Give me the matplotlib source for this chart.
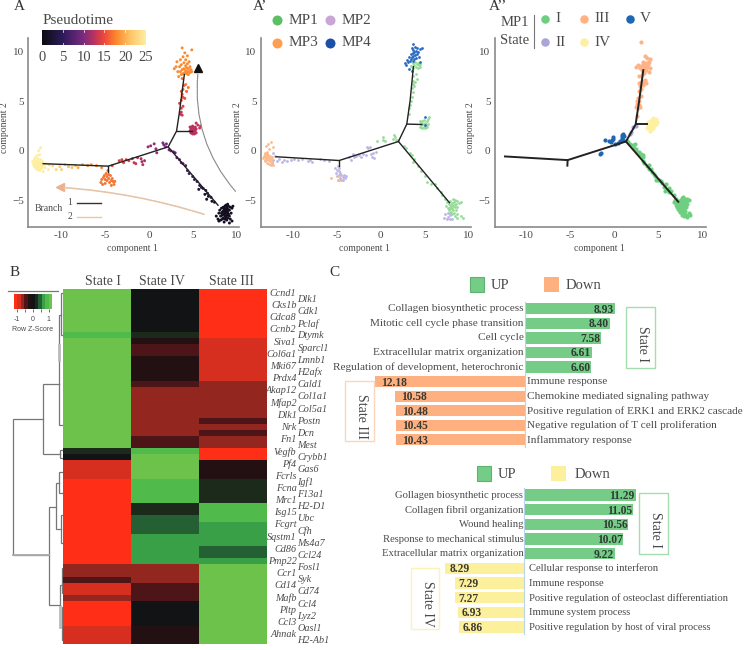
import numpy as np
import matplotlib
matplotlib.use('Agg')
import matplotlib.pyplot as plt
from matplotlib.colors import LinearSegmentedColormap, ListedColormap, BoundaryNorm, Normalize
from matplotlib.patches import Rectangle

plt.rcParams['font.family'] = ['Liberation Serif', 'DejaVu Serif']
W, H = 745, 650

# trajectories (component 1, component 2)
tree_a = [[(-12.1, -1.3), (-4.65, -1.55), (2.2, 0.4), (7.9, -5.5)],
          [(-4.65, -1.55), (-4.65, -2.1)],
          [(2.2, 0.4), (3.16, 2.0), (3.47, 3.8), (4.05, 7.7)],
          [(3.16, 2.0), (4.9, 2.0)]]
tree_b = [[(-11.9, -0.6), (-4.73, -0.98), (2.0, 0.94), (7.8, -5.25)],
          [(-4.73, -0.98), (-4.73, -1.5)],
          [(2.0, 0.94), (2.95, 2.7), (3.33, 5.1), (3.7, 8.5)],
          [(2.95, 2.7), (4.66, 2.66)]]
tree_c = [[(-12.35, -0.57), (-5.27, -0.94), (1.32, 0.94), (7.23, -5.15)],
          [(-5.27, -0.94), (-5.3, -1.5)],
          [(1.32, 0.94), (2.41, 2.66), (2.82, 5.1), (3.28, 8.15)],
          [(2.41, 2.66), (3.65, 2.66)]]

# panel A: x, y, pseudotime
a_black = [(7.7,-6.6,1),(7.9,-6.9,1),(8.0,-6.3,1),(8.0,-7.1,1),(8.1,-6.0,1),(8.2,-6.6,1),(8.2,-7.0,1),(8.3,-6.3,1),
           (8.3,-5.8,1),(8.4,-6.9,1),(8.4,-6.5,1),(8.5,-6.1,1),(8.5,-5.7,1),(8.5,-6.8,1),(8.6,-6.4,1),(8.6,-6.0,1),
           (8.6,-7.2,1),(8.7,-5.6,1),(8.7,-6.2,1),(8.7,-6.6,1),(8.7,-6.9,1),(8.8,-5.9,1),(8.8,-6.3,1),(8.8,-5.5,1),
           (8.8,-6.7,1),(8.9,-6.1,1),(8.9,-5.7,1),(8.9,-6.5,1),(8.9,-7.0,1),(9.0,-6.2,1),(9.0,-5.4,1),(9.0,-5.9,1),
           (9.0,-6.8,1),(9.1,-6.4,1),(9.1,-5.6,1),(9.2,-6.0,1),(9.2,-6.6,1),(9.2,-7.3,1),(9.3,-5.7,1),(9.3,-6.9,1),
           (9.4,-6.3,1),(9.5,-5.8,1),(9.5,-7.1,1),(9.6,-5.6,1),(8.6,-5.8,1),(8.4,-6.2,1),(8.8,-6.1,1),(9.0,-6.5,1)]
a_lower = [(2.3,0.1,9),(2.5,0.0,9),(2.8,-0.1,9),(3.0,-0.2,8),(3.2,-0.7,8),(3.5,-0.9,8),(3.7,-1.2,8),(3.9,-1.3,7),
           (4.2,-1.5,7),(4.4,-2.0,7),(4.6,-2.3,6),(5.0,-2.6,6),(5.2,-2.9,5),(5.5,-3.1,5),(5.8,-3.5,4),(6.0,-3.7,4),
           (5.7,-3.9,3),(6.2,-3.8,3),(6.5,-4.0,3),(6.7,-4.3,3),(6.4,-4.4,2),(6.8,-4.6,2),(7.1,-4.7,2),(6.6,-4.9,2),
           (7.2,-5.1,2),(7.5,-5.2,2)]
a_mid = [(-4.2,-1.5,15),(-3.4,-1.0,14),(-3.1,-0.9,14),(-2.9,-1.2,14),(-2.6,-0.9,14),(-2.3,-1.0,14),(-1.9,-0.8,13),
         (-1.7,-1.2,13),(-1.5,-1.3,13),(-1.3,-0.7,13),(-0.9,-0.8,12),(-0.8,-1.1,12),(-0.7,-1.4,12),(-0.5,-1.0,12),
         (-0.1,0.4,11),(0.2,0.5,11),(0.6,0.7,11),(0.8,0.2,11),(0.9,-0.2,11),(1.6,0.8,10),(1.7,0.6,10),(1.9,0.4,10),(2.0,0.7,10)]
a_left = [(-11.4,-1.4,23),(-11.0,-1.5,23),(-10.6,-1.9,23),(-10.2,-1.6,22),(-10.0,-1.9,22),(-9.6,-1.4,22),(-9.2,-1.6,21),
          (-8.8,-1.7,21),(-8.4,-1.5,21),(-8.1,-1.7,20),(-7.6,-1.4,20),(-7.0,-1.5,19),(-6.6,-1.4,19),(-6.0,-1.5,18),(-5.4,-1.7,18)]
a_yellow = [(-13.3,-1.1,25),(-13.2,-1.4,25),(-13.1,-0.9,25),(-13.1,-1.6,25),(-13,-1.2,25),(-13,-0.7,25),(-12.9,-1.5,25),
            (-12.9,-1.0,25),(-12.9,-1.8,25),(-12.8,-1.3,25),(-12.8,-0.5,25),(-12.8,-1.6,25),(-12.7,-1.1,25),(-12.7,-1.9,25),
            (-12.7,-0.8,25),(-12.6,-1.4,25),(-12.6,0.0,25),(-12.6,-1.7,25),(-12.5,-1.2,25),(-12.5,-0.4,25),(-12.5,-2.0,25),
            (-12.4,-1.5,25),(-12.4,-0.9,25),(-12.4,0.3,25),(-12.3,-1.3,25),(-12.3,-1.8,25),(-12.2,-1.1,25),(-12.2,-1.6,25),
            (-12.1,-2.1,25),(-12.0,-1.4,25),(-11.9,-1.7,25),(-11.8,-1.3,25),(-11.5,-1.9,25),(-12.9,-1.3,25),(-12.6,-1.1,25)]
a_low_orange = [(-5.5,-3.2,17),(-5.4,-2.9,17),(-5.3,-3.4,17),(-5.2,-2.7,17),(-5.1,-2.5,17),(-5.0,-2.9,17),(-5.0,-3.3,17),
                (-4.9,-2.3,17),(-4.8,-2.6,17),(-4.8,-3.0,17),(-4.7,-2.0,17),(-4.6,-2.4,17),(-4.6,-2.8,17),(-4.5,-3.2,17),
                (-4.4,-2.5,17),(-4.3,-3.0,17),(-4.3,-3.5,17),(-4.2,-2.8,17),(-4.1,-3.1,17),(-4.0,-3.4,17),(-3.9,-3.1,17)]
a_red = [(4.7,2.0,12.5),(4.7,2.4,12.5),(4.8,1.8,12.5),(4.8,2.2,12.5),(4.9,2.0,12.5),(4.9,2.4,12.5),(5.0,1.7,12.5),
         (5.0,2.1,12.5),(5.0,2.5,12.5),(5.1,1.9,12.5),(5.1,2.3,12.5),(5.2,2.1,12.5),(5.2,1.7,12.5),(5.3,2.4,12.5),
         (5.3,2.0,12.5),(5.4,2.2,12.5),(5.4,2.8,12.5),(5.4,1.8,12.5),(5.6,2.6,13),(5.8,2.3,13),(5.9,2.5,13)]
a_upper = [(3.6,3.7,13),(3.7,3.9,13),(3.8,3.6,13),(3.7,4.3,14),(3.9,4.5,14),(3.5,4.8,14),(3.7,5.1,15),(3.9,5.4,15),
           (3.8,5.7,15),(4.1,5.3,15),(3.7,6.0,16),(3.9,6.2,16),(4.3,6.0,16),(4.0,6.6,16),(4.2,6.7,17),(4.5,6.4,17)]
a_top = [(2.9,8.3,18),(3.1,8.5,18),(3.2,9.0,18),(3.3,8.0,18),(3.4,7.5,18),(3.5,8.5,18),(3.6,9.2,18),(3.6,8.0,18),(3.7,7.7,18),
         (3.7,8.7,18),(3.8,10.4,18),(3.8,8.2,18),(3.9,9.5,18),(3.9,7.8,18),(4.0,8.9,18),(4.0,8.3,18),(4.1,7.9,18),(4.1,9.9,18),
         (4.2,8.6,18),(4.2,8.1,18),(4.2,9.2,18),(4.3,7.8,18),(4.3,8.4,18),(4.4,8.0,18),(4.4,8.8,18),(4.4,9.6,18),(4.5,7.7,18),
         (4.5,8.3,18),(4.6,8.0,18),(4.6,9.0,18),(4.7,7.9,18),(4.7,8.5,18),(4.8,8.2,18),(4.9,8.0,18),(4.9,10.2,18),(3.8,7.3,17)]

# panel A': x, y per molecular program
b_mp1 = [(7.4,-5.6),(7.5,-5.2),(7.6,-5.8),(7.7,-5.4),(7.7,-6.0),(7.8,-5.7),(7.9,-5.1),(7.9,-5.9),(8.0,-5.5),(8.0,-6.2),(8.1,-5.3),
         (8.1,-5.8),(8.1,-6.4),(8.2,-4.9),(8.2,-5.6),(8.2,-6.0),(8.3,-5.2),(8.3,-6.3),(8.4,-5.7),(8.4,-5.0),(8.4,-6.6),(8.5,-5.4),
         (8.5,-6.0),(8.6,-5.1),(8.6,-6.8),(8.7,-5.7),(8.7,-6.4),(8.9,-5.3),(9.1,-6.6),(9.3,-6.8),(9.1,-5.2),(8.3,-5.5),(8.0,-5.8),
         (2.6,0.5),(2.9,0.3),(3.3,-0.2),(3.5,-0.4),(3.8,-0.8),(3.6,-1.1),(4.2,-1.5),(4.6,-2.0),(5.0,-2.5),(5.3,-3.2),(5.7,-3.4),
         (6.1,-3.4),(6.4,-3.8),(6.8,-4.2),(7.0,-4.5),(7.3,-4.9),(-0.4,1.0),(0.2,1.1),(0.5,1.0),(0.3,1.4),(1.4,1.2),(1.5,1.6),(1.6,1.4),
         (1.7,1.1),(2.0,1.1),(3.2,3.7),(3.2,4.3),(3.3,4.6),(3.5,5.4),(3.4,5.0),(3.6,5.9),(3.5,6.3),(3.7,6.8),(3.8,6.5),(3.6,7.1),
         (3.9,7.0),(4.1,7.3),(3.7,7.6),(4.0,7.8),(3.4,8.6),(3.6,8.9),(3.7,8.4),(3.8,8.7),(3.9,9.0),(4.0,8.5),(4.1,8.8),(4.2,8.4),
         (4.2,8.9),(4.3,8.7),(4.4,8.5),(4.5,8.8),(4.6,2.8),(4.4,2.4),(4.5,3.0),(4.6,2.6),(4.7,2.3),(4.7,3.0),(4.8,2.7),(4.9,2.4),
         (4.9,3.1),(5.0,2.8),(5.0,2.3),(5.1,2.6),(5.2,3.0),(5.3,2.4),(5.4,2.7),(5.5,3.4),(5.4,3.2)]
b_mp2 = [(7.3,-6.4),(7.5,-6.9),(7.6,-6.3),(7.6,-6.7),(7.8,-6.9),(7.9,-6.5),(8.1,-6.9),(7.2,-6.8),(7.9,-6.3),
         (-12.3,-0.2),(-12.0,-0.5),(-12.2,-0.9),(-12.4,-1.2),(-11.8,-1.0),(-11.6,-0.8),(-11.2,-1.1),(-11.0,-0.9),(-10.6,-1.0),
         (-10.2,-0.9),(-9.9,-0.8),(-9.4,-0.9),(-9.0,-0.8),(-8.3,-1.0),(-8.0,-0.9),(-7.8,-1.1),(-6.9,-0.8),(-6.4,-0.9),(-5.9,-1.0),
         (-5.0,-1.9),(-5.1,-2.2),(-5.2,-1.7),(-5.0,-2.5),(-4.9,-1.5),(-4.8,-2.0),(-4.8,-2.4),(-4.7,-1.7),(-4.6,-2.2),(-4.6,-2.7),
         (-4.5,-2.9),(-4.5,-2.4),(-4.3,-2.6),(-4.3,-2.9),(-4.2,-2.4),(-4.1,-2.7),(-3.9,-2.5),(-4.9,-2.9),
         (-3.6,-0.6),(-3.4,-0.9),(-3.2,-0.3),(-3.0,-0.6),(-2.8,-0.5),(-2.5,-0.4),(-2.2,-0.6),(-2.0,-0.3),(-1.7,-0.4),(-1.6,0.4),
         (-1.4,0.3),(-1.2,0.4),(-1.1,-0.3),(-1.0,-0.6),(-0.9,-0.2),(-0.8,-0.7),(-0.6,-0.1)]
b_mp3 = [(-13.4,-0.7),(-13.3,-0.5),(-13.2,-0.9),(-13.2,-0.2),(-13.1,-0.6),(-13.1,-1.0),(-13.0,-0.4),(-13.0,-0.8),(-13.0,0.5),
         (-12.9,-0.6),(-12.9,-1.2),(-12.9,-0.1),(-12.8,-0.9),(-12.8,-0.4),(-12.8,0.7),(-12.7,-0.7),(-12.7,-1.3),(-12.7,0.2),
         (-12.6,-1.0),(-12.6,-0.5),(-12.5,-0.8),(-12.5,-1.4),(-12.5,0.9),(-12.4,-0.6),(-12.4,-1.1),(-12.3,0.4),(-12.2,-1.4),
         (-12.9,-0.3),(-13.1,-0.3),(-5.7,-2.7),(-4.9,-2.5),(-4.8,-3.0)]
b_mp4 = [(2.7,8.9),(2.9,8.7),(3.0,9.2),(3.1,9.0),(3.2,8.3),(3.2,9.5),(3.3,9.1),(3.4,9.8),(3.4,9.3),(3.5,9.5),(3.5,10.4),(3.5,8.1),
         (3.6,9.1),(3.6,9.9),(3.7,10.2),(3.7,9.6),(3.7,10.8),(3.8,9.3),(3.8,10.0),(3.9,9.7),(3.9,10.5),(4.0,10.1),(4.0,9.4),(4.1,9.8),
         (4.1,10.4),(4.2,10.0),(4.3,9.5),(4.5,10.3),(4.5,9.0),(4.7,10.4),(5.0,2.6),(5.0,3.4)]

# panel A'': x, y per state
c_s1 = [(1.4,1.0),(1.6,0.9),(1.8,0.7),(2.1,0.6),(2.2,0.3),(2.3,0.7),(2.5,0.2),(2.6,-0.1),(2.9,-0.4),(2.8,-0.1),(3.0,-0.3),(3.2,-0.4),
        (3.3,-0.6),(3.3,-1.0),(3.4,-1.2),(3.7,-1.5),(3.9,-1.8),(3.9,-1.4),(4.2,-1.8),(4.3,-2.1),(4.6,-2.5),(4.5,-2.3),(4.8,-2.8),(4.7,-3.0),
        (4.9,-2.9),(5.1,-3.0),(5.3,-3.1),(5.4,-3.3),(5.6,-3.7),(5.8,-3.4),(5.7,-4.1),(5.9,-4.0),(6.2,-3.8),(6.2,-4.2),(6.4,-4.1),(6.7,-4.5),
        (6.9,-5.0),(7.0,-4.9),(6.8,-5.2),(7.0,-5.5),(7.1,-5.2),(7.1,-5.7),(7.2,-5.4),(7.2,-5.9),(7.3,-5.1),(7.3,-5.5),(7.3,-6.0),(7.4,-5.3),
        (7.4,-5.7),(7.4,-6.2),(7.5,-5.0),(7.5,-5.4),(7.5,-5.9),(7.6,-4.8),(7.6,-5.2),(7.6,-5.6),(7.6,-6.1),(7.6,-6.5),(7.7,-5.0),(7.7,-5.4),
        (7.7,-5.8),(7.7,-6.3),(7.8,-4.7),(7.8,-5.2),(7.8,-5.6),(7.8,-6.0),(7.9,-5.3),(7.9,-5.8),(7.9,-6.2),(7.9,-6.6),(8.0,-4.9),(8.0,-5.5),
        (8.0,-6.1),(8.1,-5.2),(8.1,-5.7),(8.1,-6.5),(8.2,-4.9),(8.2,-5.4),(8.2,-6.7),(8.4,-5.0),(8.4,-6.3),(8.5,-6.5)]
c_s2 = [(2.1,2.4),(2.4,2.5),(1.9,1.9),(1.8,1.7)]
c_s3 = [(2.5,4.4),(2.6,4.7),(2.7,4.3),(2.8,4.6),(2.9,4.4),(2.6,5.0),(2.7,5.3),(2.8,5.0),(2.6,3.5),(3.0,5.5),(2.8,6.0),(2.9,6.5),
        (3.0,6.2),(2.8,6.9),(3.0,7.0),(3.2,6.9),(3.4,7.1),(3.3,6.7),(3.5,7.2),(3.6,6.9),(2.8,7.6),(3.1,7.7),(2.9,8.4),(2.5,8.5),(2.7,8.7),
        (3.0,8.6),(3.1,8.2),(3.2,8.5),(3.2,9.0),(3.3,8.0),(3.3,8.8),(3.4,8.4),(3.4,7.9),(3.5,8.7),(3.5,9.6),(3.6,8.2),(3.6,8.9),(3.7,8.5),
        (3.8,8.8),(3.9,9.0),(3.9,8.0),(4.0,9.3),(4.0,8.4),(3.7,9.4),(3.0,11.0)]
c_s4 = [(3.7,2.3),(3.8,2.6),(3.8,2.9),(3.9,2.3),(3.9,2.7),(4.0,3.0),(4.1,2.2),(4.1,2.6),(4.2,2.9),(4.2,2.3),(4.3,3.1),(4.3,2.6),
        (4.4,2.3),(4.4,2.9),(4.5,3.2),(4.5,2.6),(4.6,3.0),(4.7,2.7),(4.7,3.2),(4.8,2.9),(4.4,3.3),(4.0,2.0)]
c_s5 = [(-1.5,-0.2),(-1.6,-0.3),(-1.0,1.1),(-0.6,1.0),(-0.4,0.9),(-0.3,1.1),(-0.2,1.4),(-0.2,1.2),(0.1,0.7),(0.4,0.8),(0.6,1.0),
        (0.9,1.2),(0.9,1.4),(0.9,1.6),(1.0,1.7),(1.0,1.1),(1.1,1.5)]

# heatmap, row z-score per column
z_levels = [-1.15, -0.9, -0.6, -0.35, -0.15, 0, 0.15, 0.4, 0.7, 0.95, 1.15]
z_colors = ['#ff2f17', '#d62f1f', '#93271f', '#4e1518', '#231012', '#111314',
            '#1c2a1c', '#256035', '#3aa048', '#50bb4a', '#6cc24a']
heat_state_i = ([1.15]*7 + [0.95] + [1.15]*18 + [0.15] + [0] + [-0.9]*3 + [-1.15]*14 + [-0.6]*2 + [-0.35]
                + [-0.9]*2 + [-0.6] + [-1.15]*4 + [-0.9]*3)
heat_state_iv = ([0]*7 + [0.15] + [-0.15] + [-0.35]*2 + [-0.15]*4 + [-0.35] + [-0.6]*8 + [-0.35]*2 + [0.95]
                 + [1.15]*4 + [0.95]*4 + [0.15]*2 + [0.4]*3 + [0.7]*5 + [-0.6]*3 + [-0.35]*3 + [0]*4 + [-0.15]*3)
heat_state_iii = ([-1.15]*8 + [-0.9]*7 + [-0.6]*6 + [-0.35] + [-0.6] + [-0.35] + [-0.6]*2 + [-1.15]*2 + [-0.15]*3
                  + [0.15]*4 + [0.95]*3 + [0.7]*4 + [0.4]*2 + [0.7] + [1.15]*13)
heat_cols = ['State I', 'State IV', 'State III']
genes_left = ['Ccnd1', 'Cks1b', 'Cdca8', 'Ccnb2', 'Siva1', 'Col6a1', 'Mki67', 'Prdx4', 'Akap12', 'Mfap2', 'Dlk1', 'Nrk',
              'Fn1', 'Vegfb', 'Pf4', 'Fcrls', 'Fcna', 'Mrc1', 'Isg15', 'Fcgrt', 'Sqstm1', 'Cd86', 'Pmp22', 'Ccr1', 'Cd14',
              'Mafb', 'Pltp', 'Ccl3', 'Ahnak']
genes_right = ['Dlk1', 'Cdk1', 'Pclaf', 'Dtymk', 'Sparcl1', 'Lmnb1', 'H2afx', 'Cald1', 'Col1a1', 'Col5a1', 'Postn', 'Dcn',
               'Mest', 'Crybb1', 'Gas6', 'Igf1', 'F13a1', 'H2-D1', 'Ubc', 'Cfh', 'Ms4a7', 'Ccl24', 'Fosl1', 'Syk', 'Cd74',
               'Ccl4', 'Lyz2', 'Oasl1', 'H2-Ab1']
dendro_links = [[(128,478),(40,478),(40,885),(148,885)],
                [(178,373),(128,373),(128,582),(180,582)],
                [(190,570),(180,570),(180,595),(190,595)],
                [(167,740),(148,740),(148,1035),(180,1035)],
                [(178,670),(167,670),(167,808),(182,808)],
                [(190,635),(178,635),(178,700),(190,700)],
                [(190,765),(182,765),(182,850),(190,850)],
                [(185,975),(180,975),(180,1100),(185,1100)],
                [(190,925),(185,925),(185,1000),(190,1000)],
                [(190,1040),(185,1040),(185,1140),(190,1140)],
                [(190,100),(184,100),(184,225),(190,225)],
                [(184,165),(178,165),(178,495),(190,495)]]

# enrichment bars
terms_up_1 = ['Collagen biosynthetic process', 'Mitotic cell cycle phase transition', 'Cell cycle',
              'Extracellular matrix organization', 'Regulation of development, heterochronic']
vals_up_1 = [8.93, 8.40, 7.58, 6.61, 6.60]
terms_down_1 = ['Immune response', 'Chemokine mediated signaling pathway', 'Positive regulation of ERK1 and ERK2 cascade',
                'Negative regulation of T cell proliferation', 'Inflammatory response']
vals_down_1 = [12.18, 10.58, 10.48, 10.45, 10.43]
terms_up_2 = ['Gollagen biosynthetic process', 'Collagen fibril organization', 'Wound healing',
              'Response to mechanical stimulus', 'Extracellular matrix organization']
vals_up_2 = [11.29, 11.05, 10.56, 10.07, 9.22]
terms_down_2 = ['Cellular response to interferon', 'Immune response', 'Positive regulation of osteoclast differentiation',
                'Immune system process', 'Positive regulation by host of viral process']
vals_down_2 = [8.29, 7.29, 7.27, 6.93, 6.86]

TXT = '#4a4a4a'
fig = plt.figure(figsize=(W/100, H/100), dpi=100)


def px_axes(left, top, right, bottom, **kw):
    return fig.add_axes([left/W, 1-bottom/H, (right-left)/W, (bottom-top)/H], **kw)


def put(x, y, s, size=10, ha='left', va='center', color=TXT, **kw):
    fig.text(x/W, 1-y/H, s, fontsize=size, ha=ha, va=va, color=color, **kw)


def dot(x, y, color, d=8):
    fig.add_artist(plt.Line2D([x/W], [1-y/H], marker='o', ms=d*0.72, mfc=color, mec='none', ls='none'))


def traj_axes(left, right, xlim, tree, lw=1.0, ylab_x=5):
    ax = px_axes(left, 38, right, 227)
    ax.set_xlim(xlim)
    ax.set_ylim(-7.7, 11.4)
    for s in ['top', 'right']:
        ax.spines[s].set_visible(False)
    for s in ['left', 'bottom']:
        ax.spines[s].set_color('#8a8a8a')
        ax.spines[s].set_linewidth(1.2)
    ax.set_xticks([-10, -5, 0, 5, 10])
    ax.set_xticklabels(['-10', '-5', '0', '5', '10'])
    ax.set_yticks([-5, 0, 5, 10])
    ax.tick_params(length=0, labelsize=8, labelcolor=TXT, pad=3)
    for seg in tree:
        seg = np.array(seg)
        ax.plot(seg[:, 0], seg[:, 1], color='#222222', lw=lw, zorder=5)
    put((left+right)/2-1, 248, 'component 1', size=7, ha='center')
    put(ylab_x, 128, 'component 2', size=7, rotation=90, ha='center')
    return ax


# panel A
ax = traj_axes(28, 239, (-13.83, 10.3), tree_a)
pt_cmap = LinearSegmentedColormap.from_list('pseudo', [(0, '#0b0b12'), (0.2, '#2d1b5a'), (0.4, '#7c2a7f'), (0.5, '#b8325f'),
                                                       (0.6, '#f0483a'), (0.72, '#fc8a2e'), (0.85, '#fdc468'), (1, '#fdeea0')])
pt_norm = Normalize(0, 25)
for group in [a_black, a_lower, a_mid, a_left, a_yellow, a_low_orange, a_red, a_upper, a_top]:
    g = np.array(group, dtype=float)
    ax.scatter(g[:, 0], g[:, 1], c=g[:, 2], cmap=pt_cmap, norm=pt_norm, s=4.5, linewidths=0, zorder=3)
ax.annotate('', xy=(5.62, 8.0), xytext=(10.1, -4.3),
            arrowprops=dict(arrowstyle='-', color='#8c8c8c', lw=0.9, ls=(0, (1, 0.8)), connectionstyle='arc3,rad=-0.22'))
ax.plot([5.64], [8.4], marker='^', ms=6, color='#111111', ls='none')
ax.annotate('', xy=(-10.0, -3.7), xytext=(6.6, -6.5),
            arrowprops=dict(arrowstyle='-', color='#e6c4a8', lw=1.2, ls=(0, (1, 0.7)), connectionstyle='arc3,rad=0.06'))
ax.plot([-10.2], [-3.68], marker='<', ms=6, color='#efb08c', ls='none')
ax.plot([-8.2, -5.5], [-5.3, -5.3], color='#333333', lw=1)
ax.plot([-8.2, -5.5], [-6.7, -6.7], color='#f3c49c', lw=1)
put(35, 208, 'Branch', size=7)
put(70, 202.5, '1', size=7, ha='center')
put(70, 216.5, '2', size=7, ha='center')

cax = px_axes(42, 30, 146, 45)
sm = plt.cm.ScalarMappable(norm=pt_norm, cmap=pt_cmap)
cb = fig.colorbar(sm, cax=cax, orientation='horizontal', ticks=[0, 5, 10, 15, 20, 25])
cb.outline.set_visible(False)
cax.tick_params(length=0, labelsize=10.5, labelcolor=TXT, pad=4)
for t in [5, 10, 15, 20]:
    cax.plot([t, t], [0.85, 1], color='white', lw=0.5)
    cax.plot([t, t], [0, 0.15], color='white', lw=0.5)
put(43, 20, 'Pseudotime', size=11)

# panel A'
ax = traj_axes(260.7, 471, (-13.64, 10.24), tree_b, ylab_x=237)
for pts, col in [(b_mp2, '#bdb5e2'), (b_mp1, '#94dc98'), (b_mp3, '#ffb98a'), (b_mp4, '#2a6bc0')]:
    p = np.array(pts)
    ax.scatter(p[:, 0], p[:, 1], color=col, s=4, linewidths=0, zorder=3)
for x, y, name, col in [(276.7, 20, 'MP1', '#5dbf63'), (330, 20, 'MP2', '#c9a6d6'),
                        (276.7, 43, 'MP3', '#ff9d50'), (330, 43, 'MP4', '#1b4fa8')]:
    dot(x, y, col, 10)
    put(x+11.5, y, name, size=11)

# panel A''
ax = traj_axes(494.7, 705.7, (-13.51, 10.33), tree_c, lw=1.4, ylab_x=471)
for pts, col in [(c_s1, '#6fcf80'), (c_s2, '#a9a5d6'), (c_s3, '#ffb285'), (c_s4, '#fdf0a0'), (c_s5, '#1f66b5')]:
    p = np.array(pts)
    ax.scatter(p[:, 0], p[:, 1], color=col, s=9, linewidths=0, zorder=3)
put(515, 23, 'MP1', size=10.5, ha='center')
put(515, 40, 'State', size=10.5, ha='center')
fig.add_artist(plt.Line2D([534/W, 534/W], [1-15/H, 1-48/H], color='#777777', lw=0.8))
for x, y, name, col in [(545, 19, 'I', '#6fcf80'), (545, 42, 'II', '#a9a5d6'), (584.3, 19, 'III', '#ffb285'),
                        (584.3, 42, 'IV', '#fdf0a0'), (630, 19, 'V', '#1f66b5')]:
    dot(x, y, col, 8.5)
    put(x+10, y, name, size=11)

for x, y, s in [(14, 7, 'A'), (252.7, 7, 'A’'), (489, 7, 'A’’'), (10, 273, 'B'), (329, 273, 'C')]:
    put(x, y, s, size=11, color='#333333')

# panel B
z_cmap = ListedColormap(z_colors)
mids = (np.array(z_levels[1:])+np.array(z_levels[:-1]))/2
bounds = np.concatenate([[-2], mids, [2]])
z_norm = BoundaryNorm(bounds, z_cmap.N)
heat = np.array([heat_state_i, heat_state_iv, heat_state_iii]).T
ax = px_axes(63.3, 289, 266.7, 644)
ax.imshow(heat, cmap=z_cmap, norm=z_norm, aspect='auto', interpolation='nearest')
ax.axis('off')
for x, name in zip([102.7, 162, 231], heat_cols):
    put(x, 282, name, size=10, ha='center')
n_genes = len(genes_left)
for i in range(n_genes):
    put(296.5, 293.3+i*12.19, genes_left[i], size=7.3, ha='right', style='italic')
    put(297.5, 299.3+i*12.19, genes_right[i], size=7.3, style='italic')

ax = px_axes(0, 289, 63.33, 644)
ax.set_xlim(0, 190)
ax.set_ylim(1152, 87)
ax.axis('off')
for link in dendro_links:
    link = np.array(link)
    ax.plot(link[:, 0], link[:, 1], color='#777777', lw=0.9, solid_joinstyle='miter')
ax.plot([178, 178], [255, 300], color='#bbbbbb', lw=2)
ax.plot([180, 180], [1040, 1100], color='#bbbbbb', lw=2)
ax.plot([40, 148], [885, 885], color='#aaaaaa', lw=1.3)

ax = px_axes(14.3, 294, 51.7, 309)
ax.imshow([z_levels], cmap=z_cmap, norm=z_norm, aspect='auto', extent=(-1.15, 1.19, 0, 1), interpolation='nearest')
ax.set_yticks([])
ax.set_xticks([-1, -0.5, 0, 0.5, 1])
ax.set_xticklabels(['-1', '', '0', '', '1'], family='Liberation Sans', fontsize=5, color=TXT)
ax.tick_params(length=2.5, width=0.6, pad=2.5, color='#555555')
for s in ax.spines.values():
    s.set_visible(False)
put(32.8, 329.5, 'Row Z-Score', size=5, ha='center', family='Liberation Sans')
fig.add_artist(plt.Line2D([8/W, 58/W], [1-291/H, 1-291/H], color='#777777', lw=0.9))


# panel C
def go_panel(xc, row0, step, terms_up, vals_up, terms_down, vals_down, scale_up, scale_down, col_down, pad_down, term_size, pad_term):
    top, bottom = row0-step/2, row0+9.5*step
    left_ax = px_axes(300, top, xc, bottom)
    right_ax = px_axes(xc, top, W, bottom)
    left_ax.set_xlim((xc-300)/scale_down, 0)
    right_ax.set_xlim(0, (W-xc)/scale_up)
    rows_up = np.arange(5)
    rows_down = np.arange(5, 10)
    right_ax.barh(rows_up, vals_up, height=0.78, color='#74cc87')
    left_ax.barh(rows_down, vals_down, height=0.76, color=col_down)
    for a in [left_ax, right_ax]:
        a.set_ylim(9.5, -0.5)
        a.set_xticks([])
        a.set_yticks([])
        a.patch.set_alpha(0)
        for s in a.spines.values():
            s.set_visible(False)
    right_ax.spines['left'].set_visible(True)
    right_ax.spines['left'].set_color('#b9d4ea')
    for i, t, v in zip(rows_up, terms_up, vals_up):
        left_ax.annotate(t, (0, i), xytext=(-1, 0), textcoords='offset pixels', ha='right', va='center',
                         fontsize=term_size, color=TXT, annotation_clip=False)
        right_ax.annotate('%.2f' % v, (v, i), xytext=(-1, -1), textcoords='offset pixels', ha='right', va='center',
                          fontsize=8.3, color='#2f3a33', weight='bold')
    for i, t, v in zip(rows_down, terms_down, vals_down):
        right_ax.annotate(t, (0, i), xytext=(pad_term, 0), textcoords='offset pixels', ha='left', va='center',
                          fontsize=term_size, color=TXT, annotation_clip=False)
        left_ax.annotate('%.2f' % v, (v, i), xytext=(pad_down, -1), textcoords='offset pixels', ha='left', va='center',
                         fontsize=8.3, color='#3a3a33', weight='bold')


def state_box(x0, y0, x1, y1, edge, name):
    fig.add_artist(Rectangle((x0/W, 1-y1/H), (x1-x0)/W, (y1-y0)/H, fill=False, ec=edge, lw=1, transform=fig.transFigure))
    put((x0+x1)/2+2, (y0+y1)/2+6, name, size=10, ha='center', rotation=-90)


def legend_row(x_up, x_down, y, col_down, text_up, text_down):
    fig.add_artist(Rectangle((x_up/W, 1-(y+7.5)/H), 14/W, 15/H, fc='#74cc87', ec='#5cb56c', lw=0.8, transform=fig.transFigure))
    fig.add_artist(Rectangle((x_down/W, 1-(y+7.5)/H), 15/W, 15/H, fc=col_down, ec='none', transform=fig.transFigure))
    put(text_up, y+1, 'UP', size=10.5)
    put(text_down, y+1, 'Down', size=10.5)


go_panel(524.7, 308.8, 14.56, terms_up_1, vals_up_1, terms_down_1, vals_down_1, 10.12, 12.3, '#ffb081', 6, 8.1, 2.5)
legend_row(470, 544, 285, '#ffb081', 491, 566)
state_box(626, 307, 655, 368, '#a5dcb0', 'State I')
state_box(345, 380.7, 374, 441, '#fbd5bc', 'State III')

go_panel(524.3, 495, 14.67, terms_up_2, vals_up_2, terms_down_2, vals_down_2, 9.85, 9.55, '#fdf09c', 4, 7.7, 4.5)
legend_row(476.7, 551, 473, '#fdf09c', 498, 575)
state_box(639.3, 493.3, 668.3, 554.3, '#a5dcb0', 'State I')
state_box(410.7, 567.7, 439.3, 628.7, '#fdf3b5', 'State IV')

plt.savefig('out.png', dpi=100)
